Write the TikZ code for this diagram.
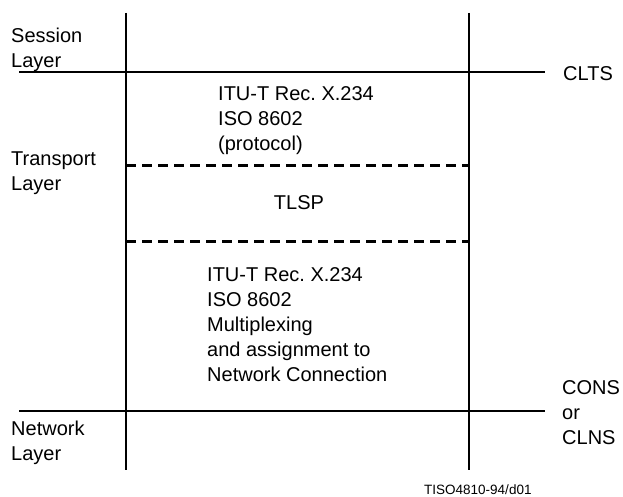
\documentclass[tikz,border=0pt]{standalone}
\usepackage{fontspec}
\setmainfont{Liberation Sans}
\frenchspacing
\begin{document}
\begin{tikzpicture}[x=1pt,y=-1pt, font=\fontsize{20}{25}\selectfont, line join=round,
	every node/.style={inner sep=0pt, align=left},
	layerline/.style={line width=1.4pt},
	dashline/.style={line width=3pt, dash pattern=on 10pt off 6pt}]
	\def\xl{126} \def\xr{469} % Đường dọc
	\def\ys{72} \def\yn{411} \def\ya{166} \def\yb{241} % Đường ngang
	\useasboundingbox (0,0) rectangle (623,497);
	\draw[layerline] (\xl,13)--(\xl,470) (\xr,13)--(\xr,470);
	\draw[layerline] (19,\ys)--(545,\ys) (19,\yn)--(545,\yn);
	\draw[dashline] (\xl,\ya)--(\xr,\ya) (\xl,\yb)--(\xr,\yb);
	\node[anchor=north west] (session) at (11,28) {Session\\Layer};
	\node[anchor=north west] (transport) at (11,152) {Transport\\Layer};
	\node[anchor=north west] (network) at (11,421) {Network\\Layer};
	\node[anchor=north west] (proto) at (218,86) {ITU-T Rec. X.234\\ISO 8602\\(protocol)};
	\node (tlsp) at (299,203) {TLSP};
	\node[anchor=north west] (mux) at (207,267) {ITU-T Rec. X.234\\ISO 8602\\Multiplexing\\and assignment to\\Network Connection};
	\node[anchor=north west] (clts) at (563,66) {CLTS};
	\node[anchor=north west] (cons) at (562,380) {CONS\\or\\CLNS};
	\node[anchor=west, font=\fontsize{13.5}{16}\selectfont] (fig) at (424,490) {TISO4810-94/d01};
\end{tikzpicture}
\end{document}
